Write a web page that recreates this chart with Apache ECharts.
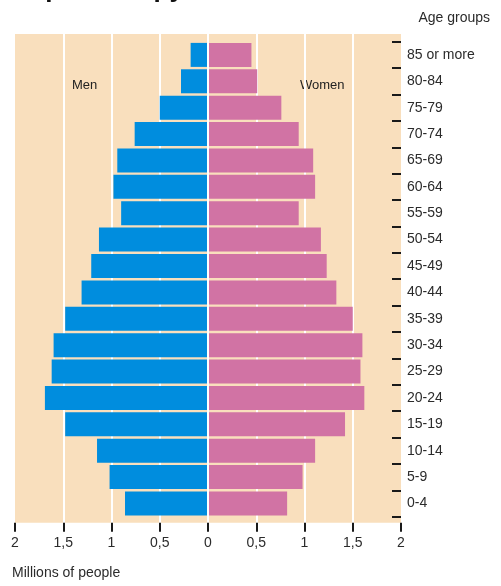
<!DOCTYPE html>
<html>
<head>
<meta charset="utf-8">
<script src="https://cdn.jsdelivr.net/npm/echarts@6/dist/echarts.min.js"></script>
<style>html,body{margin:0;padding:0;background:#fff}#c{width:501px;height:586px}</style>
</head>
<body>
<div id="c"></div>
<script>
const categories = ['0-4','5-9','10-14','15-19','20-24','25-29','30-34','35-39','40-44','45-49','50-54','55-59','60-64','65-69','70-74','75-79','80-84','85 or more'];
const men   = [0.86,1.02,1.15,1.48,1.69,1.62,1.60,1.48,1.31,1.21,1.13,0.90,0.98,0.94,0.76,0.50,0.28,0.18];
const women = [0.82,0.98,1.11,1.42,1.62,1.58,1.60,1.50,1.33,1.23,1.17,0.94,1.11,1.09,0.94,0.76,0.51,0.45];
const xTickLabels = ['2','1,5','1','0,5','0','0,5','1','1,5','2'];

const FONT = '"Liberation Sans", Arial, sans-serif';
const TXT = '#2b2b2b';
const chart = echarts.init(document.getElementById('c'), null, {renderer:'canvas'});
chart.setOption({
  animation:false,
  backgroundColor:'#ffffff',
  grid:[
    {left:15, right:100, top:34, bottom:63.3, show:true, backgroundColor:'#F9DFBD', borderWidth:0},
    {left:15, right:100, top:41.7, bottom:69.3}
  ],
  xAxis:[
    {gridIndex:0, type:'value', min:-2, max:2, interval:0.5,
     axisLine:{show:false}, axisTick:{show:false}, axisLabel:{show:false},
     splitLine:{show:true, showMinLine:false, showMaxLine:false, lineStyle:{color:'#ffffff', width:2}}},
    {gridIndex:1, type:'value', min:-2, max:2, interval:0.5, position:'bottom', offset:6,
     axisLine:{show:false, onZero:false},
     axisTick:{show:true, length:9, lineStyle:{color:'#1a1a1a', width:2}},
     axisLabel:{margin:13, fontSize:14, color:TXT, fontFamily:FONT,
       formatter:(v)=>xTickLabels[Math.round((v+2)/0.5)]},
     splitLine:{show:false}}
  ],
  yAxis:[
    {gridIndex:0, type:'value', show:false},
    {gridIndex:1, type:'category', data:categories, position:'right',
     axisLine:{show:false, onZero:false},
     axisTick:{show:true, inside:true, length:9, lineStyle:{color:'#1a1a1a', width:2}},
     axisLabel:{margin:6, fontSize:14, color:TXT, fontFamily:FONT, padding:[4,0,0,0]},
     splitLine:{show:false}}
  ],
  series:[
    {name:'Men', type:'bar', xAxisIndex:1, yAxisIndex:1, data:men.map(v=>-v),
     barGap:'-100%', barCategoryGap:'9%', itemStyle:{color:'#008DDE'}},
    {name:'Women', type:'bar', xAxisIndex:1, yAxisIndex:1, data:women,
     barGap:'-100%', barCategoryGap:'9%', itemStyle:{color:'#D173A4'}},
    {name:'center', type:'line', xAxisIndex:1, yAxisIndex:1, data:[], z:10,
     markLine:{silent:true, symbol:'none', label:{show:false},
       lineStyle:{color:'#ffffff', width:2, type:'solid'}, data:[{xAxis:0}]}}
  ],
  graphic:[
    {type:'text', left:12, top:-23, style:{text:'Population pyramid', font:'bold 26px '+FONT, fill:'#111'}},
    {type:'text', right:11, top:11, style:{text:'Age groups', font:'14px '+FONT, fill:TXT}},
    {type:'text', left:72, top:79, style:{text:'Men', font:'13px '+FONT, fill:'#222'}},
    {type:'text', left:300, top:79, style:{text:'Women', font:'13px '+FONT, fill:'#222'}},
    {type:'text', left:12, top:566, style:{text:'Millions of people', font:'14px '+FONT, fill:TXT}}
  ]
});
</script>
</body>
</html>
